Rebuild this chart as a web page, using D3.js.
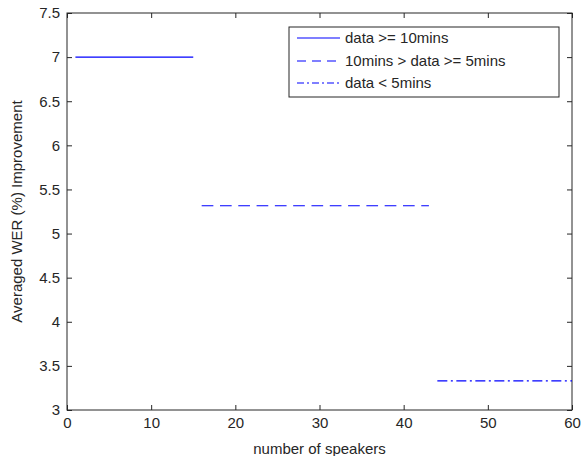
<!DOCTYPE html>
<html>
<head>
<meta charset="utf-8">
<script src="https://cdn.jsdelivr.net/npm/d3@7"></script>
<style>
  body { margin: 0; background: #fff; }
  text { font-family: "Liberation Sans", Arial, sans-serif; fill: #262626; }
</style>
</head>
<body>
<script>
var width = 582,
  height = 456,
  margin = { top: 13, right: 10, bottom: 46, left: 67 };

// segments: speaker range and averaged improvement
var groups = ["data >= 10mins", "10mins > data >= 5mins", "data < 5mins"],
  xStart = [1, 16, 44],
  xEnd = [15, 43, 60],
  improvement = [7.0, 5.315, 3.33],
  dashes = [null, "11.7,6.6", "10,3.5,2,3.5"];

var xTicks = [0, 10, 20, 30, 40, 50, 60],
  yTicks = [3, 3.5, 4, 4.5, 5, 5.5, 6, 6.5, 7, 7.5];

var svg = d3.select("body").append("svg")
  .attr("width", width)
  .attr("height", height);

var x = d3.scaleLinear().domain([0, 60]).range([margin.left, width - margin.right]);
var y = d3.scaleLinear().domain([3, 7.5]).range([height - margin.bottom, margin.top]);

var axisColor = "#262626";

function styleAxis(g) {
  g.select(".domain").remove();
  g.selectAll(".tick line").attr("stroke", axisColor);
  g.selectAll(".tick text").style("font-size", "15px").attr("fill", axisColor);
}

svg.append("g")
  .attr("transform", "translate(0," + y(3) + ")")
  .call(d3.axisBottom(x).tickValues(xTicks).tickSize(-5).tickPadding(7).tickFormat(d3.format("d")))
  .call(styleAxis);

svg.append("g")
  .attr("transform", "translate(0," + y(7.5) + ")")
  .call(d3.axisTop(x).tickValues(xTicks).tickSize(-5).tickFormat(""))
  .call(styleAxis);

svg.append("g")
  .attr("transform", "translate(" + x(0) + ",0)")
  .call(d3.axisLeft(y).tickValues(yTicks).tickSize(-5).tickPadding(7).tickFormat(function (d) { return d3.format("")(d); }))
  .call(styleAxis);

svg.append("g")
  .attr("transform", "translate(" + x(60) + ",0)")
  .call(d3.axisRight(y).tickValues(yTicks).tickSize(-5).tickFormat(""))
  .call(styleAxis);

svg.append("rect")
  .attr("x", x(0))
  .attr("y", y(7.5))
  .attr("width", x(60) - x(0))
  .attr("height", y(3) - y(7.5))
  .attr("fill", "none")
  .attr("stroke", axisColor)
  .attr("stroke-width", 1);

svg.selectAll(".seg")
  .data(groups)
  .enter().append("line")
  .attr("class", "seg")
  .attr("x1", function (d, i) { return x(xStart[i]); })
  .attr("x2", function (d, i) { return x(xEnd[i]); })
  .attr("y1", function (d, i) { return y(improvement[i]); })
  .attr("y2", function (d, i) { return y(improvement[i]); })
  .attr("stroke", "#0000ff")
  .attr("stroke-width", 1.2)
  .attr("stroke-dasharray", function (d, i) { return dashes[i]; });

// axis labels
svg.append("text")
  .attr("x", (x(0) + x(60)) / 2)
  .attr("y", 454)
  .attr("text-anchor", "middle")
  .style("font-size", "15px")
  .text("number of speakers");

svg.append("text")
  .attr("transform", "translate(22," + (y(3) + y(7.5)) / 2 + ") rotate(-90)")
  .attr("text-anchor", "middle")
  .style("font-size", "15px")
  .text("Averaged WER (%) Improvement");

// legend
var legend = svg.append("g").attr("transform", "translate(289,27)");
legend.append("rect")
  .attr("width", 270)
  .attr("height", 70)
  .attr("fill", "#fff")
  .attr("stroke", axisColor)
  .attr("stroke-width", 1);

var rowY = [11, 34, 56];
var items = legend.selectAll(".item")
  .data(groups)
  .enter().append("g")
  .attr("class", "item")
  .attr("transform", function (d, i) { return "translate(0," + rowY[i] + ")"; });

items.append("line")
  .attr("x1", 8)
  .attr("x2", 51)
  .attr("stroke", "#0000ff")
  .attr("stroke-width", 1.2)
  .attr("stroke-dasharray", function (d, i) { return i == 1 ? "9,6" : i == 2 ? "7,3,2,3" : null; });

items.append("text")
  .attr("x", 56)
  .attr("dy", "0.35em")
  .style("font-size", "15px")
  .attr("fill", "#000")
  .text(function (d) { return d; });
</script>
</body>
</html>
